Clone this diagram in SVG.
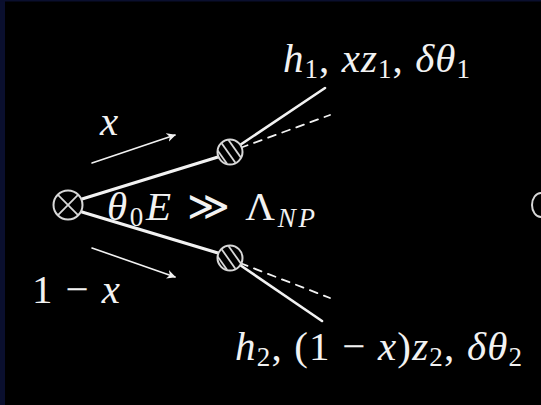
<svg xmlns="http://www.w3.org/2000/svg" width="541" height="405" viewBox="0 0 541 405">
<defs>
<style>
.t{font-family:"Liberation Serif","DejaVu Serif",serif;fill:#f2f2f2;font-size:41px}
.i{font-style:italic}
.u{font-style:normal}
.s{font-size:27px;font-style:normal}
.si{font-size:27px;font-style:italic}
.ln{stroke:#f2f2f2;fill:none;stroke-linecap:round}
.blob{fill:#000;stroke:#d8d8d8;stroke-width:2}
.h{stroke:#d8d8d8;stroke-width:1.8}
</style>
<marker id="ah" viewBox="0 0 10 10" refX="9" refY="5" markerWidth="9" markerHeight="9" orient="auto" markerUnits="userSpaceOnUse">
<path d="M0,0 L10,5 L0,10 L3,5 Z" fill="#f2f2f2"/>
</marker>
<clipPath id="c1"><circle cx="230" cy="152" r="12"/></clipPath>
<clipPath id="c2"><circle cx="230" cy="258" r="12"/></clipPath>
</defs>
<rect width="541" height="405" fill="#000"/>
<rect x="0" y="0" width="5" height="405" fill="#0a0f2e"/>
<rect x="0" y="0" width="541" height="1.5" fill="#0a0f2e"/>
<g id="connectors">
<line class="ln" x1="82" y1="199" x2="218" y2="157" stroke-width="3.2"/>
<line class="ln" x1="82" y1="212" x2="218" y2="253" stroke-width="3.2"/>
<line class="ln" x1="240" y1="145" x2="325" y2="88" stroke-width="2.6"/>
<line class="ln" x1="240" y1="265" x2="322" y2="321" stroke-width="2.6"/>
<line class="ln" x1="240" y1="148" x2="330" y2="115" stroke-width="1.8" stroke-dasharray="8,7"/>
<line class="ln" x1="240" y1="263" x2="330" y2="298" stroke-width="1.8" stroke-dasharray="8,7"/>
<line class="ln" x1="92" y1="163" x2="175" y2="135" stroke-width="1.6" marker-end="url(#ah)"/>
<line class="ln" x1="92" y1="248" x2="175" y2="277" stroke-width="1.6" marker-end="url(#ah)"/>
</g>
<g id="source">
<circle cx="68" cy="205" r="14.5" fill="#000" stroke="#d8d8d8" stroke-width="2"/>
<line x1="57.7" y1="194.7" x2="78.3" y2="215.3" stroke="#d8d8d8" stroke-width="1.8"/>
<line x1="78.3" y1="194.7" x2="57.7" y2="215.3" stroke="#d8d8d8" stroke-width="1.8"/>
</g>
<g id="blob1">
<circle class="blob" cx="230" cy="152" r="12.5"/>
<g clip-path="url(#c1)" class="h">
<line x1="206" y1="134" x2="230" y2="168"/>
<line x1="213" y1="131" x2="237" y2="165"/>
<line x1="220" y1="128" x2="244" y2="162"/>
<line x1="227" y1="125" x2="251" y2="159"/>
</g>
</g>
<g id="blob2">
<circle class="blob" cx="230" cy="258" r="12.5"/>
<g clip-path="url(#c2)" class="h">
<line x1="206" y1="240" x2="230" y2="274"/>
<line x1="213" y1="237" x2="237" y2="271"/>
<line x1="220" y1="234" x2="244" y2="268"/>
<line x1="227" y1="231" x2="251" y2="265"/>
</g>
</g>
<g id="edge-right">
<path d="M541,193 A9,12 0 0 0 541,217" fill="none" stroke="#d8d8d8" stroke-width="2"/>
</g>
<g id="labels">
<text class="t i" x="100" y="135">x</text>
<text class="t" x="32" y="303" textLength="88" lengthAdjust="spacing">1 − <tspan class="i">x</tspan></text>
<text class="t i" x="107" y="220" textLength="208" lengthAdjust="spacing">θ<tspan class="s" dy="6">0</tspan><tspan dy="-6">E</tspan><tspan class="u"> ≫ Λ</tspan><tspan class="si" dy="7">NP</tspan></text>
<text class="t i" x="283" y="72" textLength="187" lengthAdjust="spacing">h<tspan class="s" dy="6">1</tspan><tspan class="u" dy="-6">, </tspan>xz<tspan class="s" dy="6">1</tspan><tspan class="u" dy="-6">, </tspan>δθ<tspan class="s" dy="6">1</tspan></text>
<text class="t i" x="235" y="360" textLength="287" lengthAdjust="spacing">h<tspan class="s" dy="6">2</tspan><tspan class="u" dy="-6">, (1 − </tspan>x<tspan class="u">)</tspan>z<tspan class="s" dy="6">2</tspan><tspan class="u" dy="-6">, </tspan>δθ<tspan class="s" dy="6">2</tspan></text>
</g>
</svg>
